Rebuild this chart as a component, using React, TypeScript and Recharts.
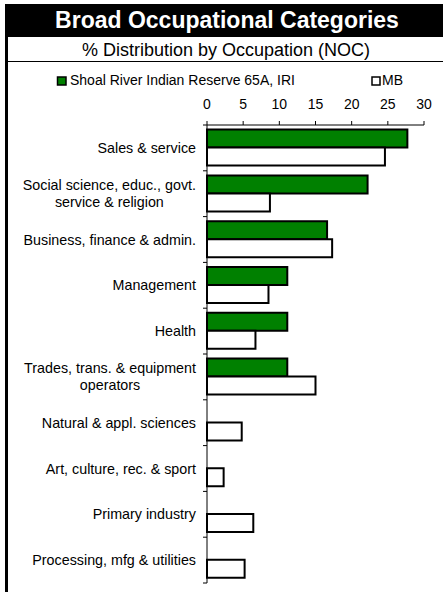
import React from 'react';
import { BarChart, Bar, XAxis, YAxis } from 'recharts';

const FONT = "Arial, 'Liberation Sans', sans-serif";

const title = 'Broad Occupational Categories';
const subtitle = '% Distribution by Occupation (NOC)';

const categories = [
  'Sales & service',
  'Social science, educ., govt.\nservice & religion',
  'Business, finance & admin.',
  'Management',
  'Health',
  'Trades, trans. & equipment\noperators',
  'Natural & appl. sciences',
  'Art, culture, rec. & sport',
  'Primary industry',
  'Processing, mfg & utilities',
];

const seriesIRIName = 'Shoal River Indian Reserve 65A, IRI';
const seriesIRI: (number | null)[] = [27.7, 22.2, 16.6, 11.1, 11.1, 11.1, null, null, null, null];

const seriesMBName = 'MB';
const seriesMB: number[] = [24.6, 8.7, 17.3, 8.5, 6.7, 15.0, 4.8, 2.3, 6.4, 5.2];

const xTicks = [0, 5, 10, 15, 20, 25, 30];

const data = categories.map((c, i) => ({ category: c, iri: seriesIRI[i], mb: seriesMB[i] }));

const CHART_W = 443;
const CHART_H = 592;
const MARGIN = { top: 90, right: 19, bottom: 9, left: 0 };
const X_AXIS_H = 35;
const Y_AXIS_W = 207;
const PLOT_H = CHART_H - MARGIN.top - X_AXIS_H - MARGIN.bottom;

let measureCtx: CanvasRenderingContext2D | null = null;
function measure(text: string, size: number) {
  if (!measureCtx) {
    const c = document.createElement('canvas');
    measureCtx = c.getContext('2d');
  }
  if (!measureCtx) return text.length * size * 0.5;
  measureCtx.font = `${size}px ${FONT}`;
  return measureCtx.measureText(text).width;
}

const CategoryTick = (props: any) => {
  const { x, y, payload, index } = props;
  const count = props.visibleTicksCount || categories.length;
  const tickMargin = 7;
  const tickSize = 4;
  const lines: string[] = String(payload.value).split('\n');
  const fs = 14.3;
  const lh = 17;
  const step = PLOT_H / count;
  const axisX = x + tickMargin + tickSize;
  const tickX = x + tickMargin;
  const marks = (
    <g>
      <line x1={tickX} x2={axisX} y1={y - step / 2} y2={y - step / 2} stroke="#000" strokeWidth={1} />
      {index === count - 1 && (
        <line x1={tickX} x2={axisX} y1={y + step / 2} y2={y + step / 2} stroke="#000" strokeWidth={1} />
      )}
    </g>
  );
  if (lines.length === 1) {
    return (
      <g>
        {marks}
        <text x={x} y={y + 5} textAnchor="end" fontSize={fs} fill="#000" fontFamily={FONT}>
          {lines[0]}
        </text>
      </g>
    );
  }
  const w = Math.max(...lines.map((l) => measure(l, fs)));
  const cx = x - w / 2;
  const first = y + 5 - ((lines.length - 1) * lh) / 2;
  return (
    <g>
      {marks}
      {lines.map((l, i) => (
        <text key={i} x={cx} y={first + i * lh} textAnchor="middle" fontSize={fs} fill="#000" fontFamily={FONT}>
          {l}
        </text>
      ))}
    </g>
  );
};

export default function App() {
  return (
    <div style={{ position: 'absolute', left: 0, top: 0, width: CHART_W, height: CHART_H, background: '#fff', fontFamily: FONT, overflow: 'hidden' }}>
      <svg width={CHART_W} height={CHART_H} style={{ position: 'absolute', left: 0, top: 0 }}>
        <rect x={5} y={4} width={438} height={33} fill="#000" />
        <text x={227} y={28} textAnchor="middle" fill="#fff" fontSize={23} fontWeight="bold" fontFamily={FONT}>
          {title}
        </text>
        <text x={226} y={56} textAnchor="middle" fill="#000" fontSize={18} fontFamily={FONT}>
          {subtitle}
        </text>
        <line x1={5} x2={443} y1={61.5} y2={61.5} stroke="#000" strokeWidth={1} />
        <rect x={5} y={37} width={3} height={555} fill="#000" />
        <rect x={57.5} y={77} width={8.5} height={8} fill="#008000" stroke="#000" strokeWidth={1.5} />
        <text x={70} y={85} fontSize={14} fill="#000" fontFamily={FONT}>{seriesIRIName}</text>
        <rect x={372} y={77} width={8} height={8} fill="#fff" stroke="#000" strokeWidth={1.5} />
        <text x={382} y={85} fontSize={14} fill="#000" fontFamily={FONT}>{seriesMBName}</text>
      </svg>
      <div style={{ position: 'absolute', left: 0, top: 0 }}>
        <BarChart
          layout="vertical"
          width={CHART_W}
          height={CHART_H}
          data={data}
          margin={MARGIN}
          barCategoryGap="10%"
          barGap={0}
        >
          <XAxis
            type="number"
            orientation="top"
            domain={[0, 30]}
            ticks={xTicks}
            interval={0}
            height={X_AXIS_H}
            tickSize={4}
            tickMargin={12}
            axisLine={{ stroke: '#000' }}
            tickLine={{ stroke: '#000' }}
            tick={{ fill: '#000', fontSize: 14, fontFamily: FONT }}
          />
          <YAxis
            type="category"
            dataKey="category"
            width={Y_AXIS_W}
            interval={0}
            tickLine={false}
            tickSize={4}
            tickMargin={7}
            axisLine={{ stroke: '#000' }}
            tick={<CategoryTick />}
          />
          <Bar dataKey="iri" name={seriesIRIName} fill="#008000" stroke="#000" strokeWidth={2} isAnimationActive={false} />
          <Bar dataKey="mb" name={seriesMBName} fill="#fff" stroke="#000" strokeWidth={2} isAnimationActive={false} />
        </BarChart>
      </div>
    </div>
  );
}
